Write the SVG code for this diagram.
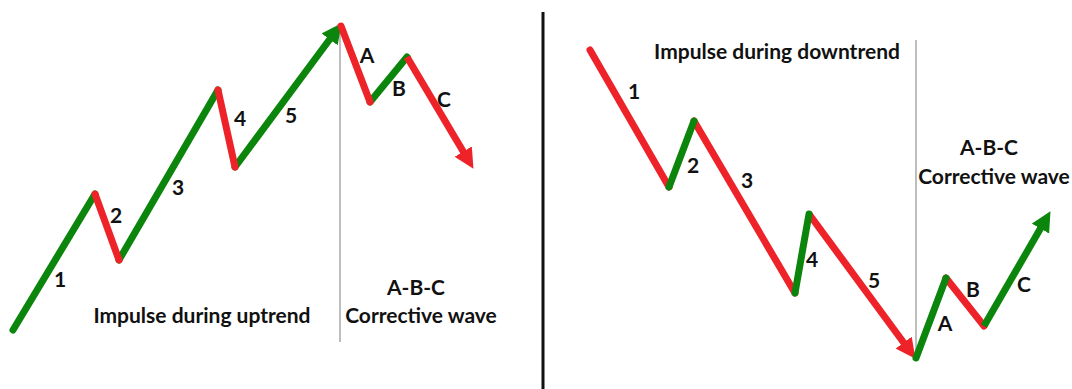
<svg xmlns="http://www.w3.org/2000/svg" width="1072" height="389" viewBox="0 0 1072 389">
<style>
.g{stroke:#0b850b;stroke-width:7;stroke-linecap:round;fill:none}
.r{stroke:#ee2229;stroke-width:7;stroke-linecap:round;fill:none}
.ga{stroke:#0b850b;stroke-width:7;stroke-linecap:butt;fill:none}
.ra{stroke:#ee2229;stroke-width:7;stroke-linecap:butt;fill:none}
.sep{stroke:#a8a8a8;stroke-width:1.5}
.t{font-family:Lato,"Open Sans","Liberation Sans",sans-serif;font-weight:bold;font-size:21px;fill:#111;text-anchor:middle}
</style>
<defs>
<marker id="ahg" markerUnits="userSpaceOnUse" markerWidth="20" markerHeight="20" viewBox="0 0 18 18" refX="1" refY="9" orient="auto"><path d="M0,0 L18,9 L0,18 z" fill="#0b850b"/></marker>
<marker id="ahr" markerUnits="userSpaceOnUse" markerWidth="20" markerHeight="20" viewBox="0 0 18 18" refX="1" refY="9" orient="auto"><path d="M0,0 L18,9 L0,18 z" fill="#ee2229"/></marker>
</defs>
<rect width="1072" height="389" fill="#fff"/>
<line x1="543" y1="12" x2="543" y2="389" stroke="#111" stroke-width="3"/>
<line class="sep" x1="340" y1="24" x2="340" y2="342"/>
<line class="sep" x1="916" y1="40" x2="916" y2="358"/>
<g id="connectors">
<g id="left-waves">
<line class="g" x1="13" y1="330" x2="95" y2="194"/>
<line class="g" x1="119" y1="260" x2="218" y2="90"/>
<line class="g" x1="235" y1="167" x2="330.3" y2="38.5" marker-end="url(#ahg)"/>
<line class="r" x1="95" y1="194" x2="119" y2="260"/>
<line class="r" x1="218" y1="90" x2="235" y2="167"/>
<line class="g" x1="370" y1="102" x2="407" y2="57"/>
<line class="r" x1="341" y1="26" x2="370" y2="102"/>
<line class="ra" x1="407" y1="57" x2="463.8" y2="152.5" marker-end="url(#ahr)"/>
</g>
<g id="right-waves">
<line class="r" x1="590" y1="50" x2="669" y2="187"/>
<line class="r" x1="694" y1="121" x2="795" y2="293"/>
<line class="ra" x1="809" y1="214" x2="904.3" y2="343.5" marker-end="url(#ahr)"/>
<line class="g" x1="669" y1="187" x2="694" y2="121"/>
<line class="g" x1="795" y1="293" x2="809" y2="214"/>
<line class="r" x1="946" y1="278" x2="984" y2="326"/>
<line class="g" x1="916" y1="358" x2="946" y2="278"/>
<line class="ga" x1="984" y1="326" x2="1041" y2="227.6" marker-end="url(#ahg)"/>
</g>
</g>
<g id="left-labels">
<text class="t" x="60" y="287">1</text>
<text class="t" x="116" y="223">2</text>
<text class="t" x="178" y="195">3</text>
<text class="t" x="240" y="126">4</text>
<text class="t" x="291" y="123">5</text>
<text class="t" x="367" y="63">A</text>
<text class="t" x="399" y="96">B</text>
<text class="t" x="444" y="107">C</text>
<text class="t" x="202" y="323">Impulse during uptrend</text>
<text class="t" x="416" y="295">A-B-C</text>
<text class="t" x="421" y="323">Corrective wave</text>
</g>
<g id="right-labels">
<text class="t" x="634" y="99">1</text>
<text class="t" x="693" y="173">2</text>
<text class="t" x="747" y="188">3</text>
<text class="t" x="812" y="267">4</text>
<text class="t" x="874" y="288">5</text>
<text class="t" x="945" y="331">A</text>
<text class="t" x="973" y="297">B</text>
<text class="t" x="1024" y="292">C</text>
<text class="t" x="777" y="59">Impulse during downtrend</text>
<text class="t" x="989" y="155">A-B-C</text>
<text class="t" x="994" y="184">Corrective wave</text>
</g>
</svg>
